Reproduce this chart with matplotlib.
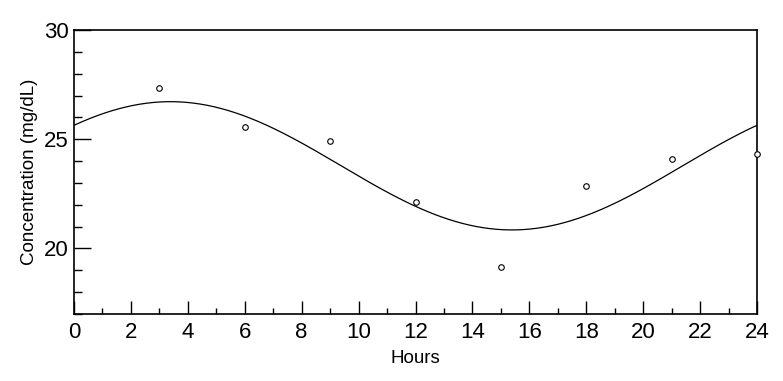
import numpy as np
import matplotlib.pyplot as plt
from matplotlib.ticker import MultipleLocator

plt.rcParams['font.family'] = ['Liberation Sans', 'DejaVu Sans']

# observed samples
hours = [3, 6, 9, 12, 15, 18, 21, 24]
conc = [27.34, 25.55, 24.91, 22.11, 19.13, 22.84, 24.08, 24.31]

period = 24.0

# cosinor fit (mesor + cos + sin) by least squares
t = np.array(hours, dtype=float)
y = np.array(conc)
w = 2 * np.pi / period
A = np.column_stack([np.ones_like(t), np.cos(w * t), np.sin(w * t)])
coef, *_ = np.linalg.lstsq(A, y, rcond=None)

t_fit = np.linspace(0, 24, 400)
y_fit = coef[0] + coef[1] * np.cos(w * t_fit) + coef[2] * np.sin(w * t_fit)

fig = plt.figure(figsize=(7.83, 3.81), dpi=100)
ax = fig.add_axes([74 / 783, 67 / 381, 683 / 783, 284 / 381])

ax.plot(t_fit, y_fit, color="black", lw=0.9)
ax.plot(hours, conc, "o", ms=4, mfc="white", mec="black", mew=0.8,
        clip_on=False, zorder=3)

ax.set_xlim(0, 24)
ax.set_ylim(17, 30)
ax.xaxis.set_major_locator(MultipleLocator(2))
ax.xaxis.set_minor_locator(MultipleLocator(1))
ax.yaxis.set_major_locator(MultipleLocator(5))
ax.yaxis.set_minor_locator(MultipleLocator(1))

ax.tick_params(axis="x", which="major", direction="in", length=9.5, width=1,
               labelsize=16, pad=6)
ax.tick_params(axis="x", which="minor", direction="in", length=4.5, width=1)
ax.tick_params(axis="y", which="major", direction="in", length=12, width=1,
               labelsize=16, pad=4)
ax.tick_params(axis="y", which="minor", direction="in", length=6, width=1)

for s in ax.spines.values():
    s.set_linewidth(1.2)

ax.set_xlabel("Hours", fontsize=13.5, labelpad=5)
ax.set_ylabel("Concentration (mg/dL)", fontsize=13.5, labelpad=4)

fig.savefig("out.png", dpi=100)
